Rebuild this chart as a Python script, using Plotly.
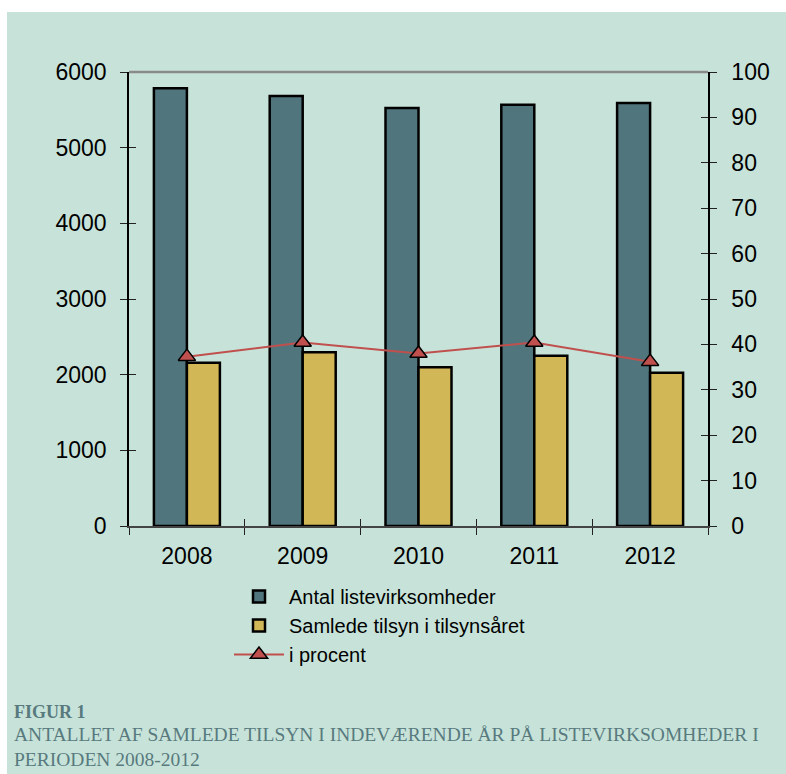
"""Figur 1: listevirksomheder og samlede tilsyn 2008-2012."""
import plotly.graph_objects as go

YEARS = ["2008", "2009", "2010", "2011", "2012"]
ANTAL = [5785, 5683, 5524, 5568, 5590]
TILSYN = [2158, 2296, 2097, 2251, 2026]
PROCENT = [37.3, 40.4, 38.0, 40.4, 36.2]

BG = "#c7e3d9"
TEAL = "#50757c"
YELLOW = "#d2b757"
RED = "#c0504d"
CAPTION = "#587a7e"

# plot area in pixels: x 129..708, y 72..526
W, H = 786, 774
L, R, T, B = 129, 78, 72, 248
PW, PH = W - L - R, H - T - B


def px_x(x):
    return (x - L) / PW


def px_y(y):
    return (H - B - y) / PH


fig = go.Figure()
fig.add_bar(
    x=YEARS, y=ANTAL, name="Antal listevirksomheder",
    marker=dict(color=TEAL, line=dict(color="black", width=2.5)),
)
fig.add_bar(
    x=YEARS, y=TILSYN, name="Samlede tilsyn i tilsynsåret",
    marker=dict(color=YELLOW, line=dict(color="black", width=2.5)),
)
fig.add_scatter(
    x=YEARS, y=PROCENT, name="i procent", yaxis="y2", mode="lines+markers",
    line=dict(color=RED, width=2),
    marker=dict(symbol="triangle-up", size=15, color=RED,
                line=dict(color="black", width=1.5)),
)

tick_font = dict(family="Liberation Sans, Arial", size=23, color="black")

fig.update_layout(
    width=W, height=H,
    margin=dict(l=L, r=R, t=T, b=B),
    paper_bgcolor="white",
    plot_bgcolor=BG,
    barmode="group", bargap=0.43, bargroupgap=0,
    showlegend=True,
    legend=dict(
        x=px_x(229), y=px_y(577), xanchor="left", yanchor="top",
        bgcolor="rgba(0,0,0,0)", font=dict(family="Liberation Sans, Arial", size=20, color="black"),
        tracegroupgap=0, itemwidth=50,
    ),
    xaxis=dict(
        type="category", tickson="boundaries", ticks="outside", ticklen=7,
        tickcolor="#222", tickwidth=1.2, showline=True, linecolor="#444", linewidth=2,
        showgrid=False, tickfont=tick_font, fixedrange=True, ticklabelstandoff=8,
    ),
    xaxis2=dict(
        type="category", overlaying="x", tickson="boundaries", ticks="inside",
        ticklen=7, tickcolor="#222", tickwidth=1.2, showticklabels=False,
        showgrid=False, matches="x",
    ),
    yaxis=dict(
        range=[0, 6000], dtick=1000, ticks="outside", ticklen=7, tickcolor="#222",
        showline=True, linecolor="black", linewidth=1.5, showgrid=False,
        zeroline=False, tickfont=tick_font, ticklabelstandoff=9,
    ),
    yaxis2=dict(
        range=[0, 100], dtick=10, overlaying="y", side="right", ticks="outside",
        ticklen=7, tickcolor="#222", showline=True, linecolor="black", linewidth=1.5,
        showgrid=False, zeroline=False, tickfont=tick_font, ticklabelstandoff=10,
    ),
    yaxis3=dict(
        range=[0, 6000], dtick=1000, overlaying="y", ticks="inside", ticklen=7,
        tickcolor="#222", showticklabels=False, showgrid=False, zeroline=False,
    ),
    yaxis4=dict(
        range=[0, 100], dtick=10, overlaying="y", side="right", ticks="inside",
        ticklen=7, tickcolor="#222", showticklabels=False, showgrid=False,
        zeroline=False,
    ),
)

# dummy traces to draw the inside tick halves
fig.add_scatter(x=YEARS, y=[None] * 5, xaxis="x2", yaxis="y3", showlegend=False, hoverinfo="skip")
fig.add_scatter(x=YEARS, y=[None] * 5, xaxis="x2", yaxis="y4", showlegend=False, hoverinfo="skip")

# green panel behind everything, with a white strip top and left
fig.add_shape(
    type="rect", xref="paper", yref="paper", layer="below",
    x0=px_x(7), x1=px_x(800), y0=px_y(790), y1=px_y(12),
    fillcolor=BG, line=dict(width=0),
)
# grey top border of the plot area
fig.add_shape(
    type="line", xref="paper", yref="paper", x0=0, x1=1, y0=1, y1=1,
    line=dict(color="#8a8a8a", width=2.5),
)

fig.add_annotation(
    text="<b>FIGUR 1</b>", xref="paper", yref="paper", x=px_x(12), y=px_y(712),
    xanchor="left", yanchor="middle", showarrow=False,
    font=dict(family="Liberation Serif, Georgia, serif", size=18, color=CAPTION),
)
fig.add_annotation(
    text="ANTALLET AF SAMLEDE TILSYN I INDEVÆRENDE ÅR PÅ LISTEVIRKSOMHEDER I<br>PERIODEN 2008-2012",
    xref="paper", yref="paper", x=px_x(12), y=px_y(722),
    xanchor="left", yanchor="top", showarrow=False, align="left",
    font=dict(family="Liberation Serif, Times New Roman, serif", size=19.5, color=CAPTION),
)

fig.write_html(
    "out.html",
    config={"displayModeBar": False},
    post_script="document.body.style.margin='0';document.body.style.overflow='hidden';",
)
